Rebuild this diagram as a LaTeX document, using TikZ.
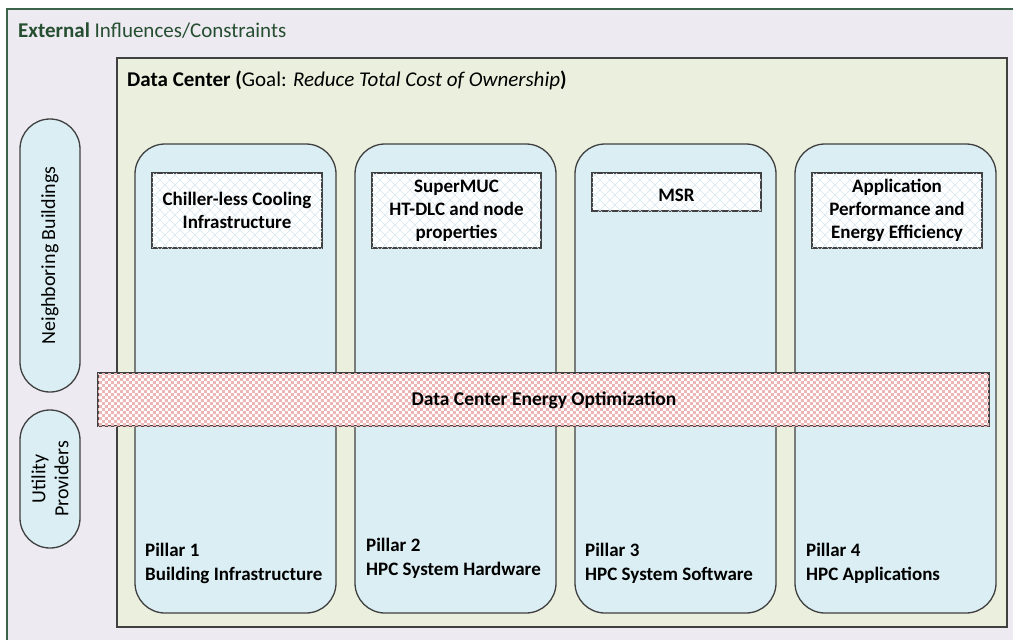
\documentclass[tikz,border=0pt]{standalone}
\usepackage{fontspec}
\setmainfont{Carlito}
\usetikzlibrary{patterns}
\definecolor{outerfill}{RGB}{237,234,242}
\definecolor{outerline}{RGB}{60,100,75}
\definecolor{titlegreen}{RGB}{38,78,48}
\definecolor{dcfill}{RGB}{235,240,222}
\definecolor{pillarfill}{RGB}{218,238,243}
\definecolor{boxline}{RGB}{64,64,64}
\definecolor{hatchcol}{RGB}{214,230,238}
\definecolor{checkcol}{RGB}{236,182,182}
\pgfdeclarepatternformonly{mychecker}{\pgfqpoint{0pt}{0pt}}{\pgfqpoint{6.4pt}{6.4pt}}{\pgfqpoint{6.4pt}{6.4pt}}{%
  \pgfpathrectangle{\pgfqpoint{0pt}{0pt}}{\pgfqpoint{3.2pt}{3.2pt}}%
  \pgfpathrectangle{\pgfqpoint{3.2pt}{3.2pt}}{\pgfqpoint{3.2pt}{3.2pt}}%
  \pgfusepath{fill}}
\pgfdeclarepatternformonly{mydiag}{\pgfqpoint{-1pt}{-1pt}}{\pgfqpoint{11pt}{11pt}}{\pgfqpoint{10pt}{10pt}}{%
  \pgfsetlinewidth{0.45pt}%
  \pgfpathmoveto{\pgfqpoint{0pt}{0pt}}\pgfpathlineto{\pgfqpoint{10pt}{10pt}}%
  \pgfpathmoveto{\pgfqpoint{0pt}{10pt}}\pgfpathlineto{\pgfqpoint{10pt}{0pt}}%
  \pgfusepath{stroke}}
\tikzset{
  pillarbox/.style={draw=boxline, line width=1.3pt, fill=pillarfill, rounded corners=30pt},
  sidepill/.style={draw=boxline, line width=1.3pt, fill=pillarfill, rounded corners=30pt},
  hatchbox/.style={draw=boxline, line width=1.2pt, fill=white, postaction={pattern=mydiag, pattern color=hatchcol}},
  boxtext/.style={font=\fontsize{19pt}{23pt}\selectfont\bfseries, align=center, text=black},
  pillartext/.style={font=\fontsize{19pt}{22pt}\selectfont\bfseries, anchor=base west, inner sep=0pt},
  sidetext/.style={font=\fontsize{20pt}{23pt}\selectfont, align=center, rotate=90},
}
\begin{document}
\begin{tikzpicture}[x=1pt, y=-1pt]
\useasboundingbox (0,0) rectangle (1013,640);
\clip (0,0) rectangle (1013,640);
\fill[white] (0,0) rectangle (1013,640);
% outer
\draw[outerline, line width=1.8pt, fill=outerfill] (7,9) rectangle (1030,660);
\node[anchor=base west, inner sep=0pt, text=titlegreen, font=\fontsize{21pt}{24pt}\selectfont] (exttitle) at (18,37) {\textbf{External} Influences/Constraints};
% data center
\draw[boxline, line width=1.3pt, fill=dcfill] (117,58) rectangle (1007,627);
\node[anchor=base west, inner sep=0pt, font=\fontsize{21pt}{24pt}\selectfont] (dctitle) at (127,86) {\textbf{Data Center (}Goal: \textit{Reduce Total Cost of Ownership}\textbf{)}};
% side pills
\draw[sidepill] (20,119) rectangle (80,392);
\node[sidetext] (nb) at (50,255.5) {Neighboring Buildings};
\draw[sidepill] (20,410) rectangle (80,548);
\node[sidetext] (up) at (50,479) {Utility\\Providers};
% pillars
\foreach \x/\n in {135/1,355/2,575/3,795/4}{
  \draw[pillarbox] (\x,144) rectangle (\x+201,613);
}
% hatched boxes
\draw[hatchbox] (152,173) rectangle (322,248);
\node[boxtext] (b1) at (237,210.5) {Chiller-less Cooling\\Infrastructure};
\draw[hatchbox] (372,173) rectangle (541,248);
\node[boxtext] (b2) at (456.5,210.5) {SuperMUC\\HT-DLC and node\\properties};
\draw[hatchbox] (592,173) rectangle (761,211);
\node[boxtext] (b3) at (676.5,195) {MSR};
\draw[hatchbox] (812,173) rectangle (982,248);
\node[boxtext] (b4) at (897,210.5) {Application\\Performance and\\Energy Efficiency};
% energy bar
\draw[boxline, line width=1.3pt, fill=white, postaction={pattern=mychecker, pattern color=checkcol}] (98,373) rectangle (989,426);
\node[font=\fontsize{19.5pt}{22pt}\selectfont\bfseries] (eo) at (544,400) {Data Center Energy Optimization};
% pillar labels
\node[pillartext] (p1a) at (145,556) {Pillar 1};
\node[pillartext] (p1b) at (145,580) {Building Infrastructure};
\node[pillartext] (p2a) at (366,551) {Pillar 2};
\node[pillartext] (p2b) at (366,575) {HPC System Hardware};
\node[pillartext] (p3a) at (585,556) {Pillar 3};
\node[pillartext] (p3b) at (585,580) {HPC System Software};
\node[pillartext] (p4a) at (806,556) {Pillar 4};
\node[pillartext] (p4b) at (806,580) {HPC Applications};
\end{tikzpicture}
\end{document}
